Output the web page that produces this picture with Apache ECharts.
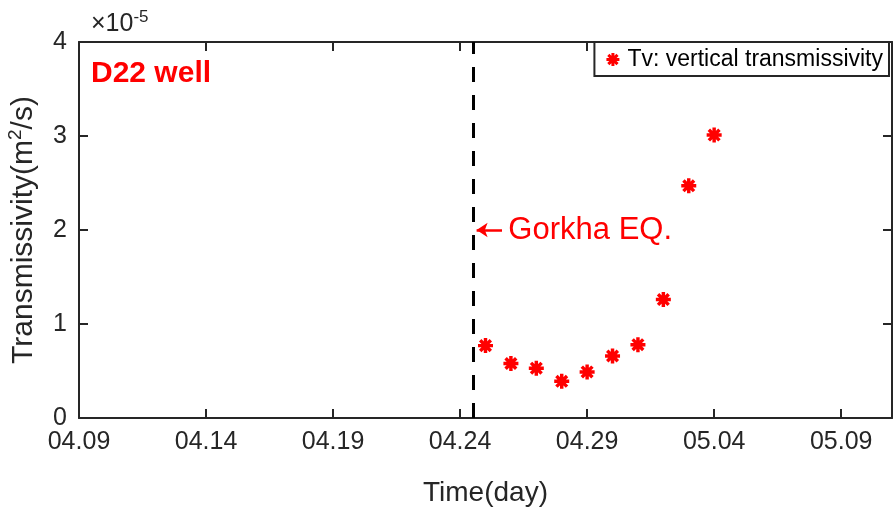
<!DOCTYPE html>
<html>
<head>
<meta charset="utf-8">
<script src="https://cdn.jsdelivr.net/npm/echarts@6/dist/echarts.min.js"></script>
<style>
  html, body { margin: 0; padding: 0; background: #fff; }
  #chart { width: 896px; height: 510px; }
</style>
</head>
<body>
<div id="chart"></div>
<script>
// days counted from 04.09
const days = [16, 17, 18, 19, 20, 21, 22, 23, 24, 25];
// Tv in units of 1e-5 m^2/s
const tvValues = [0.77, 0.58, 0.53, 0.39, 0.49, 0.66, 0.78, 1.26, 2.47, 3.01];
const xTickLabels = ['04.09', '04.14', '04.19', '04.24', '04.29', '05.04', '05.09'];
const yTickLabels = ['0', '1', '2', '3', '4'];
const quakeDay = 15.5;
const arrowFrom = 16.65;
const arrowTo = 15.65;
const arrowY = 2;
const quakeText = 'Gorkha EQ.';
const quakeTextDay = 16.9;

const FONT = '"Liberation Sans", Arial, sans-serif';
const AXIS_COLOR = '#262626';

// MATLAB-like '*' marker built from four filled bars
function asteriskPath(t) {
  const c = 10, r = 10;
  let d = '';
  [0, 45, 90, 135].forEach((deg) => {
    const a = deg * Math.PI / 180;
    const dx = Math.cos(a), dy = Math.sin(a);
    const px = -dy * t, py = dx * t;
    const pts = [
      [c - dx * r + px, c - dy * r + py],
      [c + dx * r + px, c + dy * r + py],
      [c + dx * r - px, c + dy * r - py],
      [c - dx * r - px, c - dy * r - py],
    ];
    d += 'M' + pts.map(p => p[0].toFixed(2) + ',' + p[1].toFixed(2)).join('L') + 'Z';
  });
  return 'path://' + d;
}
const STAR = asteriskPath(2.3);

const chart = echarts.init(document.getElementById('chart'));

const axisLine = { show: true, onZero: false, lineStyle: { color: AXIS_COLOR, width: 2 } };
const axisTick = { show: true, inside: true, length: 9, lineStyle: { color: AXIS_COLOR, width: 2 } };

const option = {
  animation: false,
  backgroundColor: '#fff',
  textStyle: { fontFamily: FONT },
  title: [
    {
      text: 'D22 well',
      left: 86,
      top: 54,
      textStyle: { color: '#ff0000', fontSize: 30, fontWeight: 'bold', fontFamily: FONT },
    },
    {
      text: '{a|×10}{b|-5}',
      left: 86,
      top: 4,
      textStyle: {
        fontFamily: FONT,
        fontWeight: 'normal',
        rich: {
          a: { fontSize: 25, fontWeight: 'normal', color: AXIS_COLOR, fontFamily: FONT },
          b: { fontSize: 17, fontWeight: 'normal', color: AXIS_COLOR, fontFamily: FONT, padding: [0, 0, 14, 0] },
        },
      },
    },
  ],
  legend: {
    right: 7,
    top: 42,
    orient: 'vertical',
    backgroundColor: '#fff',
    borderColor: AXIS_COLOR,
    borderWidth: 2,
    borderRadius: 0,
    padding: [6, 6, 5, 12],
    itemWidth: 13,
    itemHeight: 13,
    itemGap: 0,
    textStyle: { fontSize: 23, color: '#000', fontFamily: FONT, padding: [0, 0, 0, 3] },
    data: [{ name: 'Tv: vertical transmissivity', icon: STAR }],
  },
  grid: { left: 79, right: 4, top: 42, bottom: 92, containLabel: false, outerBoundsMode: 'none' },
  xAxis: [
    {
      type: 'value',
      min: 0,
      max: 32,
      interval: 5,
      name: 'Time(day)',
      nameLocation: 'middle',
      nameGap: 61,
      nameTextStyle: { fontSize: 28, color: AXIS_COLOR, fontFamily: FONT },
      axisLine,
      axisTick,
      splitLine: { show: false },
      axisLabel: {
        margin: 12,
        fontSize: 25,
        color: AXIS_COLOR,
        fontFamily: FONT,
        showMaxLabel: false,
        formatter: (v) => xTickLabels[Math.round(v / 5)] || '',
      },
    },
    {
      type: 'value',
      position: 'top',
      min: 0,
      max: 32,
      interval: 5,
      axisLine,
      axisTick,
      axisLabel: { show: false },
      splitLine: { show: false },
    },
  ],
  yAxis: [
    {
      type: 'value',
      min: 0,
      max: 4,
      interval: 1,
      name: 'Transmissivity(m{sup|2}/s)',
      nameLocation: 'middle',
      nameGap: 38,
      nameTextStyle: {
        fontSize: 30,
        color: AXIS_COLOR,
        fontFamily: FONT,
        rich: {
          sup: { fontSize: 19, color: AXIS_COLOR, fontFamily: FONT, padding: [0, 0, 16, 0] },
        },
      },
      axisLine,
      axisTick,
      splitLine: { show: false },
      axisLabel: {
        margin: 12,
        fontSize: 25,
        color: AXIS_COLOR,
        fontFamily: FONT,
        formatter: (v) => yTickLabels[Math.round(v)] ?? '',
      },
    },
    {
      type: 'value',
      position: 'right',
      min: 0,
      max: 4,
      interval: 1,
      axisLine,
      axisTick,
      axisLabel: { show: false },
      splitLine: { show: false },
    },
  ],
  series: [
    {
      name: 'Tv: vertical transmissivity',
      type: 'scatter',
      symbol: STAR,
      symbolSize: 15,
      itemStyle: { color: '#ff0000', opacity: 1 },
      data: days.map((d, i) => [d, tvValues[i]]),
      z: 3,
      markLine: {
        silent: true,
        symbol: 'none',
        animation: false,
        label: { show: false },
        lineStyle: { color: '#000', width: 3, type: [15, 13] },
        emphasis: { disabled: true },
        data: [{ xAxis: quakeDay }],
      },
    },
    {
      name: 'quake-arrow',
      type: 'line',
      data: [],
      markLine: {
        silent: true,
        animation: false,
        symbol: ['none', 'arrow'],
        symbolSize: 11,
        label: { show: false },
        lineStyle: { color: '#ff0000', width: 2.5, type: 'solid' },
        emphasis: { disabled: true },
        data: [[{ coord: [arrowFrom, arrowY] }, { coord: [arrowTo, arrowY] }]],
      },
      markPoint: {
        silent: true,
        symbol: 'circle',
        symbolSize: 0,
        label: {
          show: true,
          position: 'right',
          distance: 0,
          color: '#ff0000',
          fontSize: 31,
          fontFamily: FONT,
          formatter: quakeText,
        },
        data: [{ coord: [quakeTextDay, arrowY] }],
      },
    },
  ],
};

chart.setOption(option);
</script>
</body>
</html>
